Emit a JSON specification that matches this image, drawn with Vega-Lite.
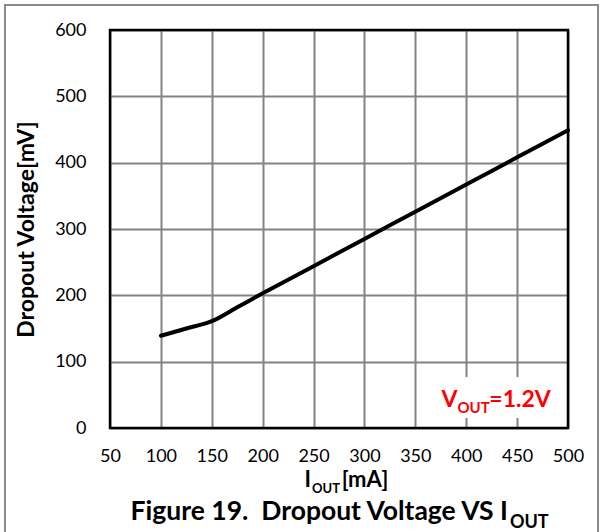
{
  "$schema": "https://vega.github.io/schema/vega-lite/v6.json",
  "width": 458,
  "height": 398,
  "autosize": "none",
  "padding": {"left": 110, "top": 30, "right": 35, "bottom": 104},
  "background": "white",
  "config": {"view": {"stroke": null}, "font": "Lato"},
  "layer": [
    {
      "data": {"values": [{}]},
      "mark": {"type": "rect", "filled": false, "stroke": "#8a8a8a", "strokeWidth": 2},
      "encoding": {
        "x": {"datum": -53.2, "type": "quantitative", "scale": {"domain": [50, 500], "nice": false, "zero": false}},
        "x2": {"datum": 529.5},
        "y": {"datum": 637.7, "type": "quantitative", "scale": {"domain": [0, 600], "nice": false, "zero": false}},
        "y2": {"datum": -170}
      }
    },
    {
      "data": {"values": [
        {"iout": 100, "vdo": 139},
        {"iout": 125, "vdo": 150},
        {"iout": 150, "vdo": 161},
        {"iout": 175, "vdo": 182},
        {"iout": 200, "vdo": 203},
        {"iout": 250, "vdo": 244},
        {"iout": 300, "vdo": 285},
        {"iout": 350, "vdo": 326},
        {"iout": 400, "vdo": 367},
        {"iout": 450, "vdo": 408},
        {"iout": 500, "vdo": 449}
      ]},
      "mark": {"type": "line", "color": "#000", "strokeWidth": 4, "strokeCap": "round", "interpolate": "monotone"},
      "encoding": {
        "x": {
          "field": "iout", "type": "quantitative",
          "scale": {"domain": [50, 500], "nice": false, "zero": false},
          "axis": {
            "values": [50, 100, 150, 200, 250, 300, 350, 400, 450, 500],
            "title": null, "ticks": false, "domain": false, "grid": true,
            "labelPadding": 19, "labelFont": "Lato", "labelFontSize": 18, "labelColor": "#000",
            "labelFlush": false, "labelOverlap": false,
            "gridColor": "#838383", "gridWidth": 2, "gridOpacity": 1
          }
        },
        "y": {
          "field": "vdo", "type": "quantitative",
          "scale": {"domain": [0, 600], "nice": false, "zero": false},
          "axis": {
            "values": [0, 50, 100, 150, 200, 250, 300, 350, 400, 450, 500, 550, 600],
            "labelExpr": "datum.value % 100 === 0 ? datum.label : ''",
            "title": "Dropout Voltage[mV]", "titleFont": "Lato", "titleFontSize": 23, "titleFontWeight": "bold",
            "titleColor": "#000", "titlePadding": 16,
            "ticks": false, "domain": false, "grid": true,
            "labelPadding": 24, "labelFont": "Lato", "labelFontSize": 18, "labelColor": "#000",
            "labelFlush": false, "labelOverlap": false,
            "gridColor": {"condition": {"test": "datum.value % 100 === 0", "value": "#838383"}, "value": "#bdbdbd"},
            "gridWidth": {"condition": {"test": "datum.value % 100 === 0", "value": 2}, "value": 1.8},
            "gridOpacity": 1
          }
        }
      }
    },
    {
      "data": {"values": [{}]},
      "mark": {"type": "rect", "filled": false, "stroke": "#000", "strokeWidth": 2.5},
      "encoding": {
        "x": {"datum": 50, "type": "quantitative"},
        "x2": {"datum": 500},
        "y": {"datum": 0, "type": "quantitative"},
        "y2": {"datum": 600}
      }
    },
    {
      "data": {"values": [{}]},
      "mark": {"type": "rect", "fill": "white", "stroke": null},
      "encoding": {
        "x": {"datum": 369.3, "type": "quantitative"},
        "x2": {"datum": 494.1},
        "y": {"datum": 76.9, "type": "quantitative"},
        "y2": {"datum": 15}
      }
    },
    {
      "data": {"values": [{}]},
      "mark": {"type": "text", "text": "V", "font": "Lato", "fontWeight": "bold", "fontSize": 23, "align": "right", "baseline": "alphabetic", "color": "#ff0000"},
      "encoding": {"x": {"datum": 391.4, "type": "quantitative"}, "y": {"datum": 32.1, "type": "quantitative"}}
    },
    {
      "data": {"values": [{}]},
      "mark": {"type": "text", "text": "OUT", "font": "Lato", "fontWeight": "bold", "fontSize": 15, "align": "left", "baseline": "alphabetic", "dy": 6, "color": "#ff0000"},
      "encoding": {"x": {"datum": 391.4, "type": "quantitative"}, "y": {"datum": 32.1, "type": "quantitative"}}
    },
    {
      "data": {"values": [{}]},
      "mark": {"type": "text", "text": "=1.2V", "font": "Lato", "fontWeight": "bold", "fontSize": 23, "align": "left", "baseline": "alphabetic", "color": "#ff0000"},
      "encoding": {"x": {"datum": 422.7, "type": "quantitative"}, "y": {"datum": 32.1, "type": "quantitative"}}
    },
    {
      "data": {"values": [{}]},
      "mark": {"type": "text", "text": "I", "font": "Lato", "fontWeight": "bold", "fontSize": 22, "align": "right", "baseline": "alphabetic", "color": "#000"},
      "encoding": {"x": {"datum": 247.5, "type": "quantitative"}, "y": {"datum": -89.4, "type": "quantitative"}}
    },
    {
      "data": {"values": [{}]},
      "mark": {"type": "text", "text": "OUT", "font": "Lato", "fontWeight": "bold", "fontSize": 13, "align": "left", "baseline": "alphabetic", "dx": 1, "dy": 6, "color": "#000"},
      "encoding": {"x": {"datum": 247.5, "type": "quantitative"}, "y": {"datum": -89.4, "type": "quantitative"}}
    },
    {
      "data": {"values": [{}]},
      "mark": {"type": "text", "text": "[mA]", "font": "Lato", "fontWeight": "bold", "fontSize": 22, "align": "left", "baseline": "alphabetic", "dx": 1, "color": "#000"},
      "encoding": {"x": {"datum": 276.7, "type": "quantitative"}, "y": {"datum": -89.4, "type": "quantitative"}}
    },
    {
      "data": {"values": [{}]},
      "mark": {"type": "text", "text": "Figure 19.\u00a0 Dropout Voltage VS I", "font": "Lato", "fontWeight": "bold", "fontSize": 26.5, "align": "right", "baseline": "alphabetic", "dy": 2, "color": "#000"},
      "encoding": {"x": {"datum": 441.0, "type": "quantitative"}, "y": {"datum": -136.1, "type": "quantitative"}}
    },
    {
      "data": {"values": [{}]},
      "mark": {"type": "text", "text": "OUT", "font": "Lato", "fontWeight": "bold", "fontSize": 18, "align": "left", "baseline": "alphabetic", "dx": 2, "dy": 10, "color": "#000"},
      "encoding": {"x": {"datum": 441.0, "type": "quantitative"}, "y": {"datum": -136.1, "type": "quantitative"}}
    }
  ]
}
